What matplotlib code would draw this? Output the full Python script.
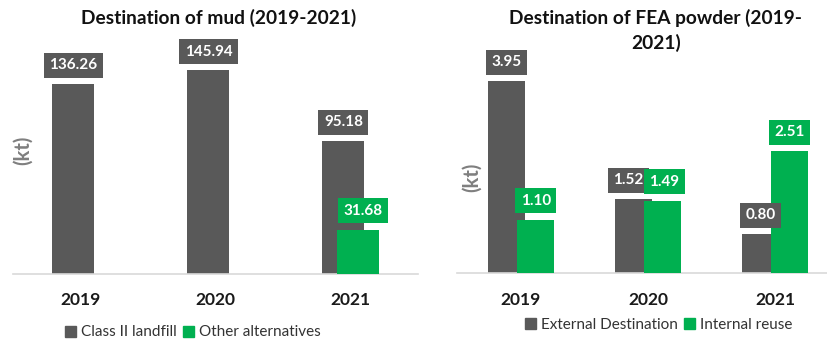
import matplotlib.pyplot as plt
from matplotlib.patches import Patch

plt.rcParams['font.family'] = ['Lato', 'DejaVu Sans']

years = ['2019', '2020', '2021']

# mud (kt)
mud_landfill = [136.26, 145.94, 95.18]
mud_other = [0, 0, 31.68]

# FEA powder (kt)
fea_external = [3.95, 1.52, 0.80]
fea_internal = [1.10, 1.49, 2.51]

GRAY = '#595959'
GREEN = '#00B050'
W, H = 828, 342
DPI = 100

fig = plt.figure(figsize=(W / DPI, H / DPI), dpi=DPI)


def px_axes(left, right, top, bottom):
    # axes rectangle given in pixels from the top-left corner
    return fig.add_axes([left / W, (H - bottom) / H, (right - left) / W, (bottom - top) / H])


def style(ax):
    for s in ['top', 'left', 'right']:
        ax.spines[s].set_visible(False)
    ax.spines['bottom'].set_color('#d9d9d9')
    ax.spines['bottom'].set_linewidth(1.2)
    ax.set_yticks([])
    ax.tick_params(axis='x', length=0, pad=13.5)
    for t in ax.get_xticklabels():
        t.set_fontweight('bold')
        t.set_fontsize(12.5)
        t.set_color('#1a1a1a')


def value_box(ax, x, v, color, dx=0):
    ax.annotate(f'{v:.2f}', xy=(x, v), xytext=(dx, 13.5), textcoords='offset points',
                ha='center', va='center', color='white', fontsize=11, fontweight='bold',
                bbox=dict(boxstyle='square,pad=0.36', fc=color, ec='none'),
                annotation_clip=False)


# --- left: destination of mud ---
ax1 = px_axes(13, 418, 30, 273.7)
scale1 = 1.394  # px per kt
ax1.set_ylim(0, (273.7 - 30) / scale1)
ax1.set_xlim(-0.5, 2.5)
x = range(len(years))
w1, off1 = 0.311, 0.052
ax1.bar([i - off1 for i in x], mud_landfill, w1, color=GRAY, zorder=2)
ax1.bar([i + off1 for i in x], mud_other, w1, color=GREEN, zorder=3)
ax1.set_xticks(list(x), years)
style(ax1)
for i in x:
    value_box(ax1, i - off1, mud_landfill[i], GRAY)
    if mud_other[i] > 0:
        value_box(ax1, i + off1, mud_other[i], GREEN, dx=4)

fig.text(219 / W, 1 - 18 / H, 'Destination of mud (2019-2021)', ha='center', va='center',
         fontsize=13.8, fontweight='bold', color='#111111')
fig.text(23 / W, 1 - 150 / H, '(kt)', rotation=90, ha='center', va='center',
         fontsize=14.5, fontweight='bold', color='#7f7f7f')
fig.legend(handles=[Patch(color=GRAY, label='Class II landfill'),
                    Patch(color=GREEN, label='Other alternatives')],
           loc='center', bbox_to_anchor=(193 / W, 1 - 332.5 / H), ncol=2, frameon=False,
           fontsize=11, handlelength=0.7, handleheight=0.7, handletextpad=0.35,
           columnspacing=0.4, labelcolor='#333333')

# --- right: destination of FEA powder ---
ax2 = px_axes(457.5, 828, 60, 273)
scale2 = 48.6
ax2.set_ylim(0, (273 - 60) / scale2)
ax2.set_xlim(-0.5, -0.5 + 370.5 / 127)
w2, off2 = 0.295, 0.116
ax2.bar([i - off2 for i in x], fea_external, w2, color=GRAY, zorder=2)
ax2.bar([i + off2 for i in x], fea_internal, w2, color=GREEN, zorder=3)
ax2.set_xticks(list(x), years)
style(ax2)
# the 2020 boxes sit side by side, nudge them apart
nudge = [0, 3.5, 0]
for i in x:
    value_box(ax2, i - off2, fea_external[i], GRAY, dx=-nudge[i])
    value_box(ax2, i + off2, fea_internal[i], GREEN, dx=nudge[i] * 0.3)

fig.text(656 / W, 1 - 30.5 / H, 'Destination of FEA powder (2019-\n2021)', ha='center',
         va='center', fontsize=13.8, fontweight='bold', color='#111111', linespacing=1.4)
fig.text(472 / W, 1 - 177 / H, '(kt)', rotation=90, ha='center', va='center',
         fontsize=14.5, fontweight='bold', color='#7f7f7f')
fig.legend(handles=[Patch(color=GRAY, label='External Destination'),
                    Patch(color=GREEN, label='Internal reuse')],
           loc='center', bbox_to_anchor=(659 / W, 1 - 325 / H), ncol=2, frameon=False,
           fontsize=11, handlelength=0.7, handleheight=0.7, handletextpad=0.35,
           columnspacing=0.4, labelcolor='#333333')

fig.savefig('out.png', dpi=DPI)
